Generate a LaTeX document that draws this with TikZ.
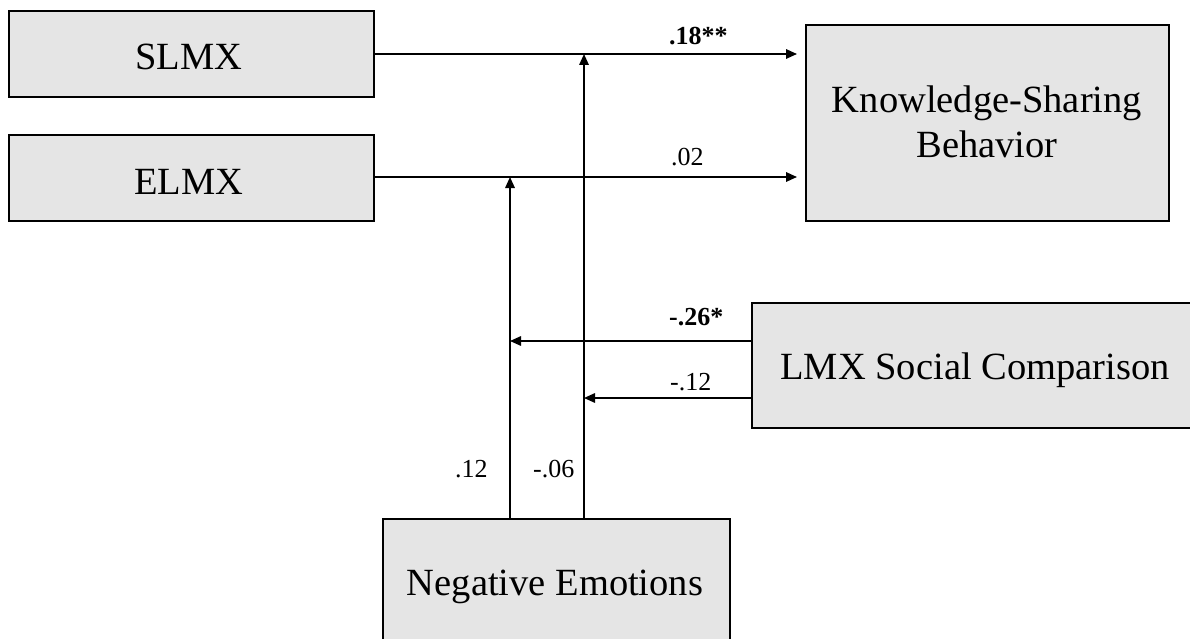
\documentclass[tikz,border=0pt]{standalone}
\usepackage{fontspec}
\setmainfont{Liberation Serif}
\usetikzlibrary{arrows.meta}
\tikzset{
  boxnode/.style={draw=black, line width=2.3pt, fill=boxgray, rectangle, inner sep=0pt, anchor=north west},
  boxtext/.style={anchor=base, inner sep=0pt, font=\fontsize{38.5}{45}\selectfont},
  coef/.style={anchor=base west, inner sep=0pt, font=\fontsize{26}{30}\selectfont},
  coefb/.style={coef, font=\fontsize{26}{30}\selectfont\bfseries},
  arr/.style={line width=1.6pt, -{Triangle[length=11pt,width=9.5pt]}},
}
\definecolor{boxgray}{HTML}{E5E5E5}
\begin{document}
\begin{tikzpicture}[x=1pt, y=-1pt]
\useasboundingbox (0,0) rectangle (1190,639);
\clip (0,0) rectangle (1190,639);
% boxes
\node[boxnode, minimum width=365pt, minimum height=86pt] (slmx) at (8,10) {};
\node[boxnode, minimum width=365pt, minimum height=86pt] (elmx) at (8,134) {};
\node[boxnode, minimum width=363pt, minimum height=196pt] (ksb) at (805,24) {};
\node[boxnode, minimum width=448pt, minimum height=125pt] (lmxsc) at (751,302) {};
\node[boxnode, minimum width=347pt, minimum height=140pt] (ne) at (382,518) {};
% box texts
\node[boxtext] (slmxt) at (189,70) {SLMX};
\node[boxtext] (elmxt) at (189,194) {ELMX};
\node[boxtext] (ksbt1) at (987,113) {Knowledge-Sharing};
\node[boxtext] (ksbt2) at (987,158) {Behavior};
\node[boxtext] (lmxsct) at (975,379) {LMX Social Comparison};
\node[boxtext] (net) at (555,595) {Negative Emotions};
% junction points
\coordinate (m1) at (510,177);
\coordinate (m2) at (584,54);
\coordinate (m3) at (510,341);
\coordinate (m4) at (584,398);
% connectors
\draw[arr, shorten >=8pt] (slmx.east |- m2) -- (ksb.west |- m2);
\draw[arr, shorten >=8pt] (elmx.east |- m1) -- (ksb.west |- m1);
\draw[arr] (ne.north -| m1) -- (m1);
\draw[arr] (ne.north -| m2) -- (m2);
\draw[arr] (lmxsc.west |- m3) -- (m3);
\draw[arr] (lmxsc.west |- m4) -- (m4);
% coefficients
\node[coefb] (c1) at (669,45) {.18**};
\node[coef] (c2) at (671,166) {.02};
\node[coefb] (c3) at (669,325) {-.26*};
\node[coef] (c4) at (670,390) {-.12};
\node[coef] (c5) at (455,477) {.12};
\node[coef] (c6) at (533,477) {-.06};
\end{tikzpicture}
\end{document}
